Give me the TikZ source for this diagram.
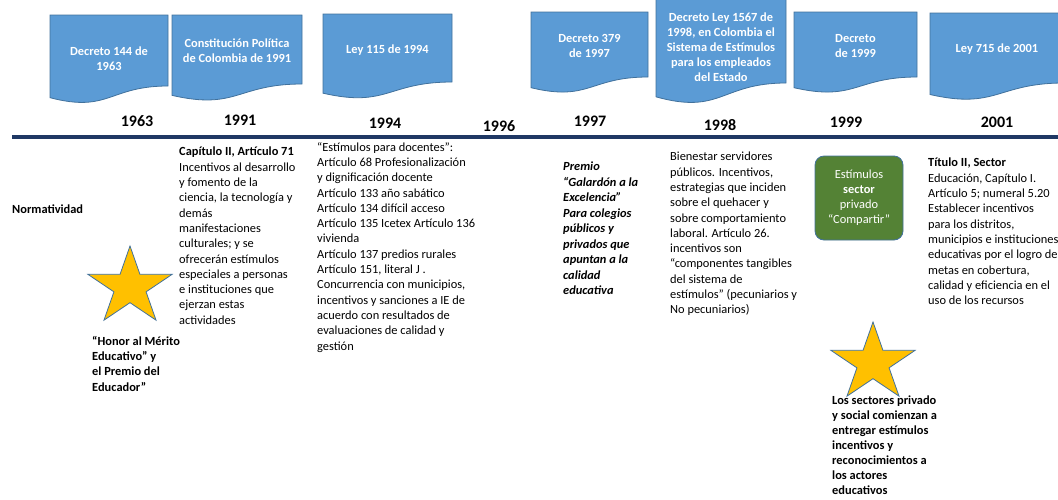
\documentclass[tikz,border=0pt]{standalone}
\usepackage{fontspec}
\setmainfont{Carlito}
\usepackage{tikz}
\usetikzlibrary{shapes,shapes.geometric,positioning}
\definecolor{boxblue}{HTML}{5B9BD5}
\definecolor{boxedge}{HTML}{41719C}
\definecolor{axisnavy}{HTML}{1F3864}
\definecolor{stargold}{HTML}{FFC000}
\definecolor{leafgreen}{HTML}{548235}
\newcommand{\docbox}[7]{%
	\pgfmathsetmacro{\boxh}{(#5-#4)/0.802}%
	\pgfmathsetmacro{\boxmid}{(#2+#3)/2}%
	\pgfmathsetmacro{\boxlow}{#4+1.108*\boxh}%
	\pgfmathsetmacro{\boxleft}{#4+0.934*\boxh}%
	\draw[docshape] (#2,#4) -- (#3,#4) -- (#3,#5) .. controls (\boxmid,#5) and (\boxmid,\boxlow) .. (#2,\boxleft) -- cycle;
	\node[doctext] (#1) at (\boxmid,#6) {#7};}

\begin{document}
\begin{tikzpicture}[x=1pt,y=-1pt,
	docshape/.style={fill=boxblue,draw=boxedge,line width=0.8pt},
	doctext/.style={text=white,font=\bfseries\fontsize{12.4}{15.1}\selectfont,align=center,inner sep=0},
	yearlabel/.style={font=\bfseries\fontsize{16}{19}\selectfont,inner sep=0},
	bodytext/.style={font=\fontsize{12.4}{15.3}\selectfont,align=left,anchor=north west,inner sep=0},
	boldtext/.style={bodytext,font=\bfseries\fontsize{12.4}{15.3}\selectfont},
	starshape/.style={star,star points=5,star point ratio=2.618,fill=stargold,draw=boxedge,line width=0.8pt,minimum size=82pt,inner sep=0,xscale=1.08}]
	\useasboundingbox (0,0) rectangle (1058,499);

	\docbox{d1963}{50}{168}{15}{86}{59}{Decreto 144 de\\1963}
	\docbox{d1991}{172}{302}{15}{84}{51}{Constitución Política\\de Colombia de 1991}
	\docbox{d1994}{323}{452}{14}{82}{50}{Ley 115 de 1994}
	\docbox{d1997}{531}{648}{12}{77}{46}{Decreto 379\\de 1997}
	\docbox{d1998}{656}{786}{-1}{83}{47}{Decreto Ley 1567 de\\1998, en Colombia el\\Sistema de Estímulos\\para los empleados\\del Estado}
	\docbox{d1999}{794}{917}{12}{77}{46}{Decreto\\de 1999}
	\docbox{d2001}{930}{1064}{13}{83}{49}{Ley 715 de 2001}

	\coordinate (axisstart) at (12,137);
	\coordinate (axisend) at (1058,137);
	\draw[axisnavy,line width=3.5pt] (axisstart) -- (axisend);

	\node[yearlabel] (y1963) at (137,121) {1963};
	\node[yearlabel] (y1991) at (240,120) {1991};
	\node[yearlabel] (y1994) at (385,123) {1994};
	\node[yearlabel] (y1996) at (499,126) {1996};
	\node[yearlabel] (y1997) at (590,121) {1997};
	\node[yearlabel] (y1998) at (720,125) {1998};
	\node[yearlabel] (y1999) at (846,122) {1999};
	\node[yearlabel] (y2001) at (997,122) {2001};

	\node[boldtext,anchor=west] (norm) at (12,209) {Normatividad};

	\node[bodytext] (t1991) at (179,147) {\textbf{Capítulo II, Artículo 71}\\Incentivos al desarrollo\\y fomento de la\\ciencia, la tecnología y\\demás\\manifestaciones\\culturales; y se\\ofrecerán estímulos\\especiales a personas\\e instituciones que\\ejerzan estas\\actividades};
	\node[bodytext] (t1994) at (317,142) {“Estímulos para docentes”:\\Artículo 68 Profesionalización\\y dignificación docente\\Artículo 133 año sabático\\Artículo 134 difícil acceso\\Artículo 135 Icetex Artículo 136\\vivienda\\Artículo 137 predios rurales\\Artículo 151, literal J .\\Concurrencia con municipios,\\incentivos y sanciones a IE de\\acuerdo con resultados de\\evaluaciones de calidad y\\gestión};
	\node[bodytext,font=\bfseries\itshape\fontsize{12.4}{15.5}\selectfont] (t1997) at (563,162) {Premio\\“Galardón a la\\Excelencia”\\Para colegios\\públicos y\\privados que\\apuntan a la\\calidad\\educativa};
	\node[bodytext] (t1998) at (670,152) {Bienestar servidores\\públicos. Incentivos,\\estrategias que inciden\\sobre el quehacer y\\sobre comportamiento\\laboral. Artículo 26.\\incentivos son\\“componentes tangibles\\del sistema de\\estímulos” (pecuniarios y\\No pecuniarios)};
	\node[bodytext] (t2001) at (928,158) {\textbf{Título II, Sector}\\Educación, Capítulo I.\\Artículo 5; numeral 5.20\\Establecer incentivos\\para los distritos,\\municipios e instituciones\\educativas por el logro de\\metas en cobertura,\\calidad y eficiencia en el\\uso de los recursos};

	\node[rounded corners=9pt,fill=leafgreen,draw=boxedge,line width=0.8pt,minimum width=88pt,minimum height=84pt,text=white,align=center,font=\fontsize{12.4}{15.1}\selectfont] (compartir) at (859,198) {Estímulos\\\textbf{sector}\\privado\\“Compartir”};

	\node[starshape] (star1) at (130,287) {};
	\node[starshape] (star2) at (873,363) {};

	\node[boldtext] (honor) at (92,336) {“Honor al Mérito\\Educativo” y\\el Premio del\\Educador”};
	\node[boldtext,font=\bfseries\fontsize{12.4}{14.9}\selectfont] (sectores) at (832,396) {Los sectores privado\\y social comienzan a\\entregar estímulos\\incentivos y\\reconocimientos a\\los actores\\educativos};
\end{tikzpicture}
\end{document}
